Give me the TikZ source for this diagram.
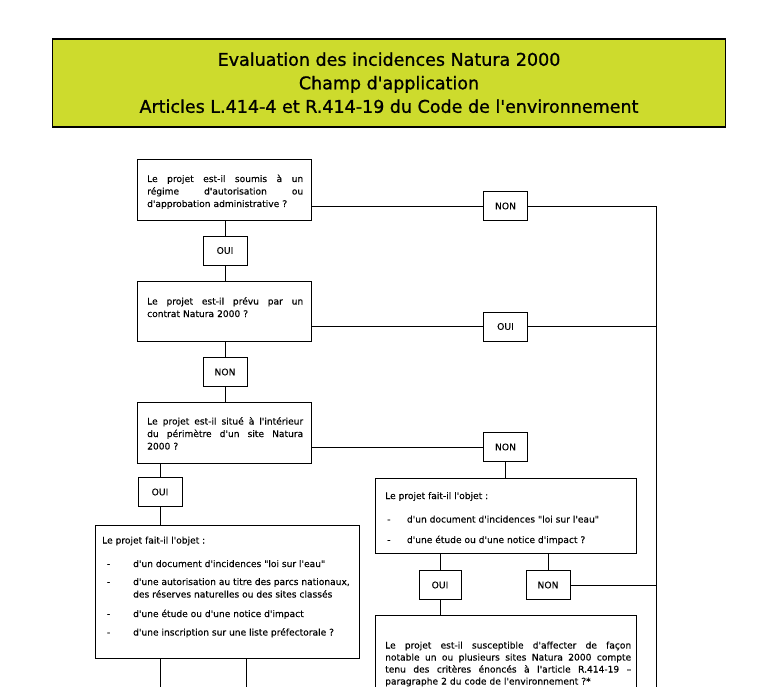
\documentclass[tikz,border=0pt]{standalone}
\usepackage{fontspec}
\newfontfamily\dvs{DejaVu Sans}[FakeBold=0.25]
\newfontfamily\dvst{DejaVu Sans}[FakeBold=1.0]
\usetikzlibrary{calc}
\definecolor{titlefill}{RGB}{205,219,45}
\newcommand\jline[2]{\leavevmode\hbox to #1{\spaceskip=0.3em plus 1fil\relax #2}}
\begin{document}
\begin{tikzpicture}[x=1pt,y=-1pt,
  box/.style={draw, line width=0.8pt, inner sep=0pt, rectangle},
  small/.style={box, minimum width=44pt, minimum height=29pt, font=\dvs\fontsize{9.2}{11}\selectfont},
  txt/.style={inner sep=0pt, anchor=base west, align=left, font=\dvs\fontsize{9.1}{12.5}\selectfont},
  conn/.style={line width=0.8pt}]
\useasboundingbox (0,0) rectangle (771,687);
\clip (0,0) rectangle (771,687);
\fill[white] (0,0) rectangle (771,687);

% title
\node[draw, line width=1.6pt, fill=titlefill, minimum width=673pt, minimum height=88pt,
  inner sep=0pt, align=center, font=\dvst\fontsize{17.5}{23.5}\selectfont] (title) at (389,82.75)
  {Evaluation des incidences Natura 2000\\Champ d'application\\Articles L.414-4 et R.414-19 du Code de l'environnement};

% question boxes
\node[box, minimum width=174pt, minimum height=61pt] (q1) at (224.5,190) {};
\node[txt, text width=156pt] (q1t) at (147,182)
  {\jline{156pt}{Le projet est-il soumis à un}\\\jline{156pt}{régime d'autorisation ou}\\d'approbation administrative ?};

\node[box, minimum width=174pt, minimum height=60pt] (q2) at (224.5,311.5) {};
\node[txt, text width=156pt] (q2t) at (147,304.5)
  {\jline{156pt}{Le projet est-il prévu par un}\\contrat Natura 2000 ?};

\node[box, minimum width=174pt, minimum height=61pt] (q3) at (224.5,432.5) {};
\node[txt, text width=156pt] (q3t) at (147,424.5)
  {\jline{156pt}{Le projet est-il situé à l'intérieur}\\\jline{156pt}{du périmètre d'un site Natura}\\2000 ?};

\node[box, minimum width=264pt, minimum height=133pt] (q4) at (227,591.5) {};
\node[txt] (q4t) at (102,543.5)
  {\begin{tabular}[t]{@{\hspace{4.7pt}}l@{\hspace{23pt}}l@{}}
   \multicolumn{2}{@{}l@{}}{Le projet fait-il l'objet :}\\[11pt]
   - & d'un document d'incidences "loi sur l'eau"\\[5.5pt]
   - & d'une autorisation au titre des parcs nationaux,\\
     & des réserves naturelles ou des sites classés\\[7pt]
   - & d'une étude ou d'une notice d'impact\\[6pt]
   - & d'une inscription sur une liste préfectorale ?
   \end{tabular}};

\node[box, minimum width=261pt, minimum height=74.5pt] (q5) at (505.5,515.75) {};
\node[txt] (q5t) at (385,499)
  {\begin{tabular}[t]{@{\hspace{2pt}}l@{\hspace{16.5pt}}l@{}}
   \multicolumn{2}{@{}l@{}}{Le projet fait-il l'objet :}\\[11pt]
   - & d'un document d'incidences "loi sur l'eau"\\[8pt]
   - & d'une étude ou d'une notice d'impact ?
   \end{tabular}};

\node[box, minimum width=261pt, minimum height=100pt] (q6) at (505.5,665) {};
\node[txt, text width=246pt, font=\dvs\fontsize{9.1}{12}\selectfont] (q6t) at (385,648.5)
  {\jline{246pt}{Le projet est-il susceptible d'affecter de façon}\\
   \jline{246pt}{notable un ou plusieurs sites Natura 2000 compte}\\
   \jline{246pt}{tenu des critères énoncés à l'article R.414-19 –}\\
   paragraphe 2 du code de l'environnement ?*};

% answer boxes
\node[small] (oui1) at (225,250.5) {OUI};
\node[small] (non1) at (225,372) {NON};
\node[small] (oui2) at (160,492) {OUI};
\node[small] (nonA) at (505.5,206) {NON};
\node[small] (ouiB) at (505.5,326.5) {OUI};
\node[small] (nonC) at (505.5,447) {NON};
\node[small, minimum width=42pt] (ouiD) at (440,585) {OUI};
\node[small] (nonE) at (548,585) {NON};

\coordinate (rtop) at (656,206);
\coordinate (rbot) at (656,700);
\coordinate (b1) at (160,700);
\coordinate (b2) at (246,700);

% connectors
\draw[conn] (oui1.north |- q1.south) -- (oui1.north);
\draw[conn] (oui1.south) -- (oui1.south |- q2.north);
\draw[conn] (non1.north |- q2.south) -- (non1.north);
\draw[conn] (non1.south) -- (non1.south |- q3.north);
\draw[conn] (oui2.north |- q3.south) -- (oui2.north);
\draw[conn] (oui2.south) -- (oui2.south |- q4.north);
\draw[conn] (q4.south -| b1) -- (b1);
\draw[conn] (q4.south -| b2) -- (b2);

\draw[conn] (q1.east |- nonA.west) -- (nonA.west);
\draw[conn] (nonA.east) -- (rtop) -- (rbot);
\draw[conn] (q2.east |- ouiB.west) -- (ouiB.west);
\draw[conn] (ouiB.east) -- (ouiB.east -| rtop);
\draw[conn] (q3.east |- nonC.west) -- (nonC.west);
\draw[conn] (nonC.south) -- (nonC.south |- q5.north);
\draw[conn] (ouiD.north |- q5.south) -- (ouiD.north);
\draw[conn] (ouiD.south) -- (ouiD.south |- q6.north);
\draw[conn] (nonE.north |- q5.south) -- (nonE.north);
\draw[conn] (nonE.east) -- (nonE.east -| rtop);
\end{tikzpicture}
\end{document}
